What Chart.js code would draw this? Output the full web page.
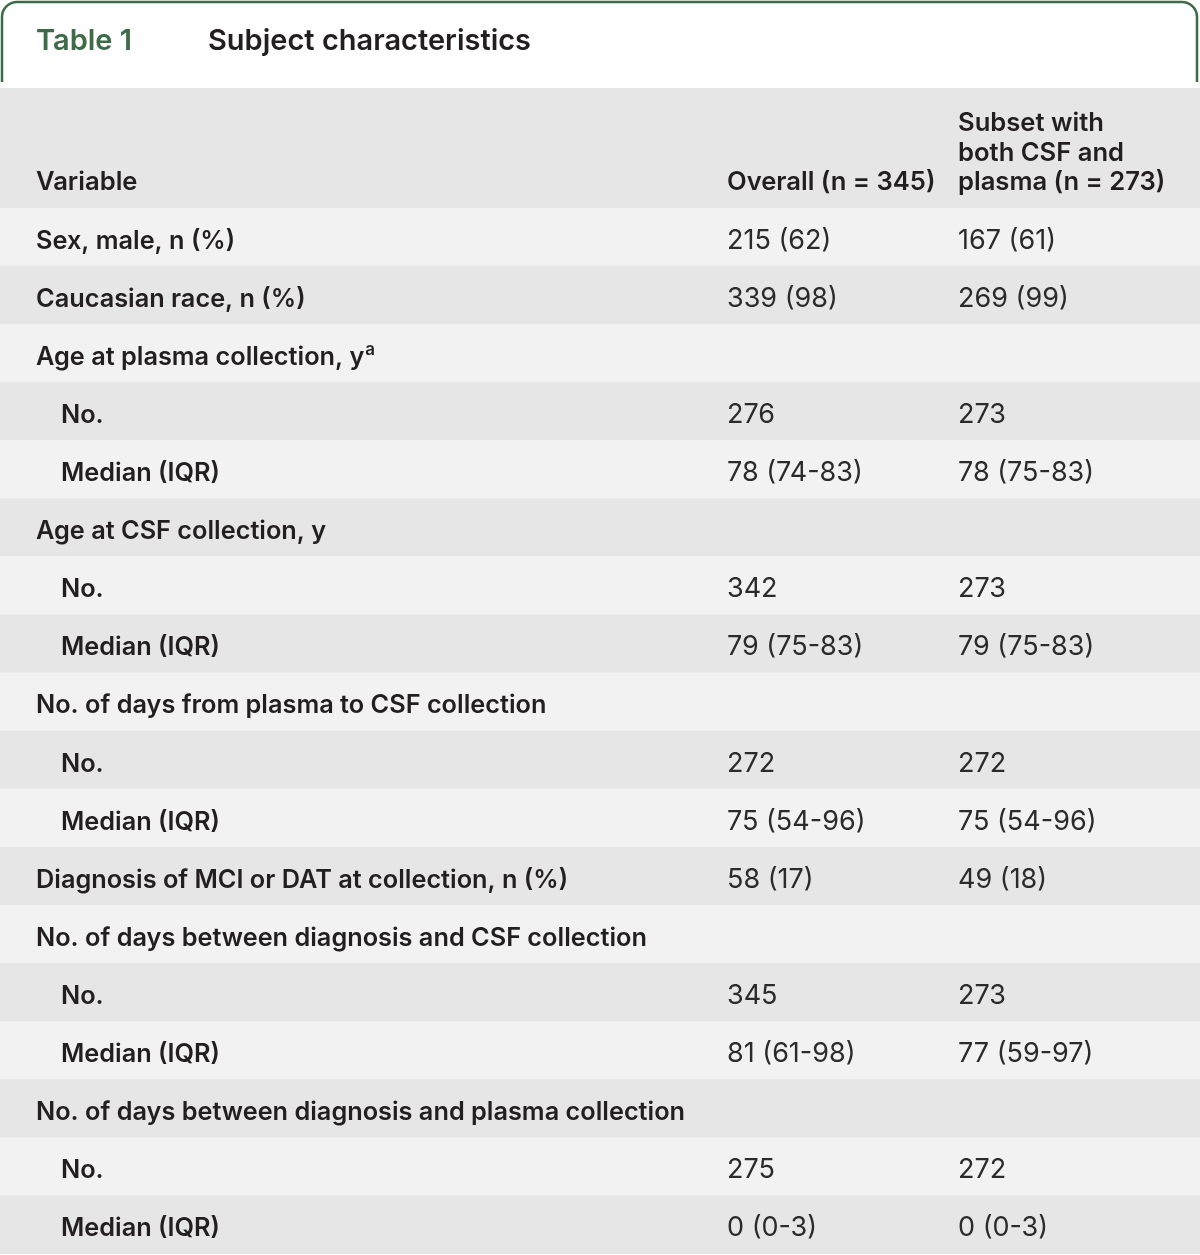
<!DOCTYPE html>
<html>
<head>
<meta charset="utf-8">
<script src="https://cdn.jsdelivr.net/npm/chart.js@4.4.1/dist/chart.umd.min.js"></script>
<style>
  html, body { margin: 0; padding: 0; background: #fff; }
  #wrap { width: 1200px; height: 1255px; position: relative; }
</style>
</head>
<body>
<div id="wrap"><canvas id="tbl" width="1200" height="1255"></canvas></div>
<script>
// table content
const tableTitle = 'Table 1';
const tableCaption = 'Subject characteristics';
const headerVariable = 'Variable';
const headerOverall = ['Overall (n = 345)'];
const headerSubset = ['Subset with', 'both CSF and', 'plasma (n = 273)'];

const rowLabels = [
    'Sex, male, n (%)',
    'Caucasian race, n (%)',
    'Age at plasma collection, y',
    'No.',
    'Median (IQR)',
    'Age at CSF collection, y',
    'No.',
    'Median (IQR)',
    'No. of days from plasma to CSF collection',
    'No.',
    'Median (IQR)',
    'Diagnosis of MCI or DAT at collection, n (%)',
    'No. of days between diagnosis and CSF collection',
    'No.',
    'Median (IQR)',
    'No. of days between diagnosis and plasma collection',
    'No.',
    'Median (IQR)'
];
const rowIndent = [0, 0, 0, 1, 1, 0, 1, 1, 0, 1, 1, 0, 0, 1, 1, 0, 1, 1];
const rowNotes = ['', '', 'a', '', '', '', '', '', '', '', '', '', '', '', '', '', '', ''];
const overallValues = ['215 (62)', '339 (98)', '', '276', '78 (74-83)', '', '342', '79 (75-83)', '', '272', '75 (54-96)', '58 (17)', '', '345', '81 (61-98)', '', '275', '0 (0-3)'];
const subsetValues = ['167 (61)', '269 (99)', '', '273', '78 (75-83)', '', '273', '79 (75-83)', '', '272', '75 (54-96)', '49 (18)', '', '273', '77 (59-97)', '', '272', '0 (0-3)'];

// 각 행은 표 전체 폭을 차지하는 막대
const rowBand = rowLabels.map(() => 1);

const GREEN = '#3d6b47';
const INK = '#231f20';
const FONT = 'Inter';
const colX = [36, 727, 958];
const indentPx = 25;
const headerHeight = 120;

const tablePlugin = {
    id: 'tableText',
    afterDatasetsDraw(chart) {
        const ctx = chart.ctx;
        const area = chart.chartArea;
        const yScale = chart.scales.y;
        ctx.save();

        // 제목 틀
        ctx.strokeStyle = GREEN;
        ctx.lineWidth = 2.5;
        const r = 15;
        ctx.beginPath();
        ctx.moveTo(2, 82);
        ctx.lineTo(2, 2 + r);
        ctx.arcTo(2, 2, 2 + r, 2, r);
        ctx.lineTo(1197 - r, 2);
        ctx.arcTo(1197, 2, 1197, 2 + r, r);
        ctx.lineTo(1197, 82);
        ctx.stroke();

        ctx.textBaseline = 'alphabetic';
        ctx.font = `600 29px ${FONT}`;
        ctx.fillStyle = GREEN;
        ctx.fillText(tableTitle, 36, 50);
        ctx.fillStyle = INK;
        ctx.fillText(tableCaption, 208, 50);

        // 헤더 행
        const hTop = area.top - headerHeight;
        ctx.fillStyle = '#e6e6e6';
        ctx.fillRect(area.left, hTop, area.right - area.left, headerHeight);
        ctx.fillStyle = INK;
        ctx.font = `600 25.6px ${FONT}`;
        ctx.fillText(headerVariable, colX[0], area.top - 18);
        headerOverall.forEach((t, i) => ctx.fillText(t, colX[1], area.top - 18 - (headerOverall.length - 1 - i) * 29.5));
        headerSubset.forEach((t, i) => ctx.fillText(t, colX[2], area.top - 18 - (headerSubset.length - 1 - i) * 29.5));

        // 데이터 행
        rowLabels.forEach((label, i) => {
            const y = yScale.getPixelForValue(i) + 11.5;
            const x = colX[0] + rowIndent[i] * indentPx;
            ctx.font = `600 25.3px ${FONT}`;
            ctx.fillStyle = INK;
            ctx.fillText(label, x, y);
            if (rowNotes[i]) {
                const w = ctx.measureText(label).width;
                ctx.font = `600 17px ${FONT}`;
                ctx.fillText(rowNotes[i], x + w + 1, y - 10);
            }
            ctx.font = `400 27px ${FONT}`;
            ctx.fillStyle = '#2b2b2b';
            ctx.fillText(overallValues[i], colX[1], y);
            ctx.fillText(subsetValues[i], colX[2], y);
        });
        ctx.restore();
    }
};

new Chart(document.getElementById('tbl').getContext('2d'), {
    type: 'bar',
    data: {
        labels: rowLabels,
        datasets: [{
            data: rowBand,
            backgroundColor: rowLabels.map((_, i) => i % 2 === 0 ? '#f2f2f2' : '#e6e6e6'),
            borderWidth: 0,
            barPercentage: 1,
            categoryPercentage: 1
        }]
    },
    options: {
        indexAxis: 'y',
        responsive: false,
        animation: false,
        layout: { padding: { top: 208, bottom: 1, left: 0, right: 0 } },
        scales: {
            x: { display: false, min: 0, max: 1 },
            y: { display: false }
        },
        plugins: {
            legend: { display: false },
            tooltip: { enabled: false }
        }
    },
    plugins: [tablePlugin]
});
</script>
</body>
</html>
